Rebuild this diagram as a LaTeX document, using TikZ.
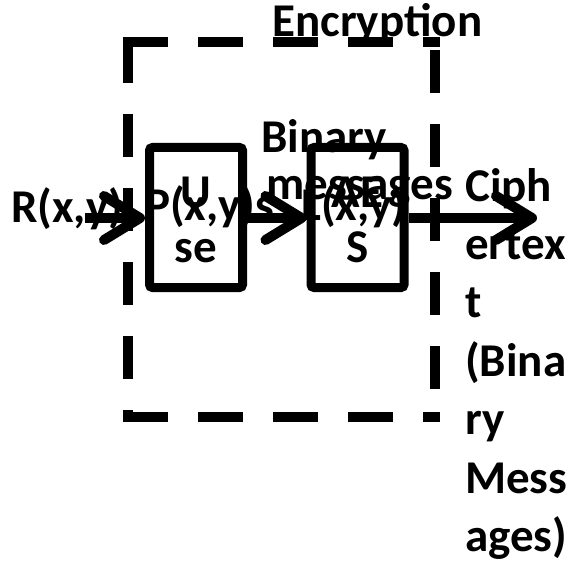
\documentclass[tikz,border=0pt]{standalone}
\usepackage{fontspec}
\setmainfont{Carlito}
\usetikzlibrary{arrows.meta}
\begin{document}
\begin{tikzpicture}[x=1pt,y=-1pt,
  txt/.style={inner sep=0pt,font=\bfseries\fontsize{47pt}{57pt}\selectfont},
  lbl/.style={txt,anchor=base west},
  ctr/.style={txt,anchor=base},
  blk/.style={draw,line width=9pt,rounded corners=3pt,minimum width=93pt,minimum height=140pt,inner sep=0pt},
  flow/.style={line width=10pt,-{Straight Barb[length=36pt,width=44pt,line cap=round,line join=round]}},
  frame/.style={line width=10pt,line cap=butt}]
\useasboundingbox (0,0) rectangle (583,564);

% dashed encryption boundary, one side at a time
\draw[frame,dash pattern=on 45pt off 30pt] (123,42) -- (440,42);
\draw[frame,dash pattern=on 45pt off 30pt] (123,417) -- (440,417);
\draw[frame,dash pattern=on 43pt off 31pt] (128,40) -- (128,422);
\draw[frame,dash pattern=on 43pt off 31pt] (435,50) -- (435,422);
\node[lbl] (enc) at (272,37) {Encryption};

% processing blocks
\node[blk] (use) at (196,217.5) {};
\node[blk] (aes) at (357.5,217.5) {};
\node[ctr] (use1) at (196,207) {U};
\node[ctr] (use2) at (196,262) {se};
\node[ctr] (aes1) at (357.5,207) {AE};
\node[ctr] (aes2) at (357.5,262) {S};

% signal labels
\node[lbl] (rin) at (11,222) {R(x,y)};
\node[lbl] (pmid) at (145,220) {P(x,y)s};
\node[lbl] (lout) at (301,220) {L(x,y)};
\node[lbl] (bin1) at (261,153) {Binary};
\node[lbl] (bin2) at (266,200) {messages};

% output description, wrapped in a narrow column
\foreach \t [count=\i] in {{Ciph},{ertex},{t},{(Bina},{ry},{Mess},{ages)}}
  \node[lbl] (out\i) at (465,{201+58.4*(\i-1)}) {\t};

% data flow
\coordinate (src) at (85,218);
\coordinate (dst) at (537,218);
\draw[flow] (src) -- (use.west |- src);
\draw[flow] (use.east |- src) -- (aes.west |- src);
\draw[flow] (aes.east |- src) -- (dst);
\end{tikzpicture}
\end{document}
